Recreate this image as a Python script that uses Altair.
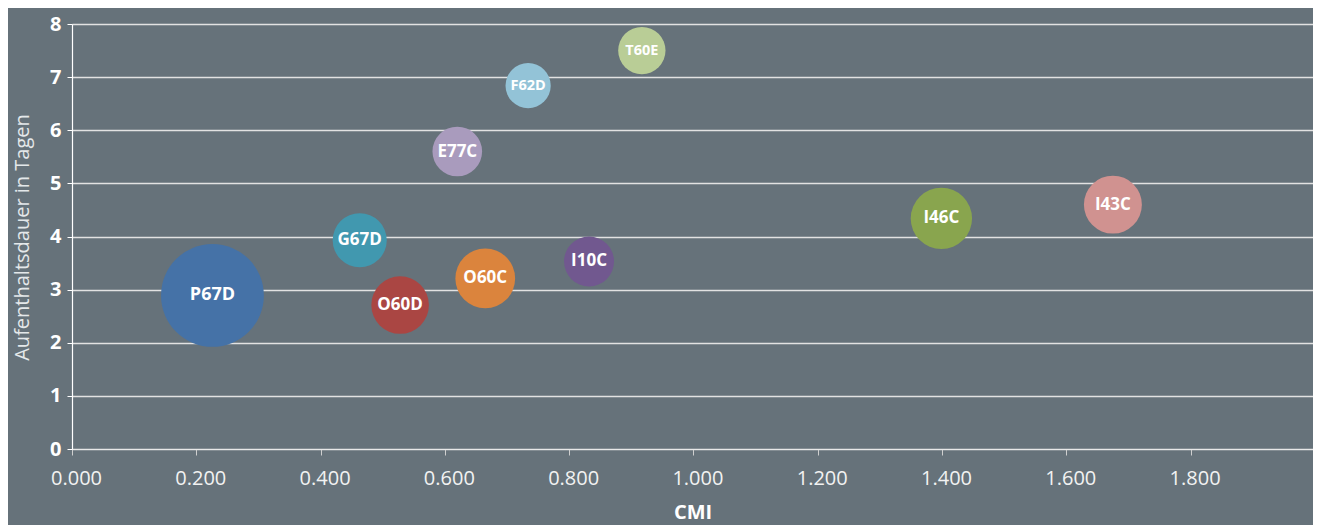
import altair as alt
import pandas as pd

# DRG codes, CMI (x), Aufenthaltsdauer in Tagen (y), bubble weight (size)
drg = ["P67D", "G67D", "O60D", "O60C", "E77C", "F62D", "T60E", "I10C", "I46C", "I43C"]
cmi = [0.226, 0.463, 0.528, 0.665, 0.620, 0.734, 0.917, 0.832, 1.399, 1.675]
tage = [2.89, 3.93, 2.71, 3.21, 5.60, 6.84, 7.50, 3.53, 4.34, 4.60]
gewicht = [3364, 930, 1056, 1136, 784, 650, 713, 795, 1197, 1069]
farben = ["#4572a7", "#4198af", "#aa4643", "#db843d", "#a99bbd",
          "#93c3d7", "#b9cd96", "#71588f", "#89a54e", "#d09290"]
x_ticks = [0.0, 0.2, 0.4, 0.6, 0.8, 1.0, 1.2, 1.4, 1.6, 1.8]
y_ticks = [0, 1, 2, 3, 4, 5, 6, 7, 8]

df = pd.DataFrame({"DRG": drg, "CMI": cmi, "Tage": tage, "Gewicht": gewicht})

FONT = "Open Sans"
BG = "#66727a"

x_enc = alt.X("CMI:Q",
              scale=alt.Scale(domain=[0, 1.997], nice=False, zero=True),
              axis=alt.Axis(values=x_ticks, format=".3f", title="CMI",
                            grid=False, domain=True, domainColor="#e8e8e8",
                            domainWidth=1.2, ticks=True, tickColor="#cfcfcf",
                            tickSize=6, labelColor="#f2f2f2", labelFontSize=20,
                            labelFont=FONT, labelPadding=13, labelFlush=False,
                            labelOffset=4,
                            titleFont=FONT, titleFontSize=20, titleFontWeight="bold",
                            titleColor="#ffffff", titleY=69,
                            titleBaseline="alphabetic"))
y_enc = alt.Y("Tage:Q",
              scale=alt.Scale(domain=[0, 8], nice=False),
              axis=alt.Axis(values=y_ticks, format="d",
                            title="Aufenthaltsdauer in Tagen",
                            grid=True, gridColor="#e2e2e2", gridWidth=1.3,
                            domain=True, domainColor="#ffffff", domainWidth=1.2,
                            ticks=True, tickColor="#ffffff", tickSize=5,
                            labelColor="#ffffff", labelFontSize=20,
                            labelFontWeight="bold", labelFont=FONT, labelPadding=6,
                            titleFont=FONT, titleFontSize=20, titleFontWeight="normal",
                            titleColor="#e4e8ea", titleX=-44, titleY=213,
                            titleAlign="center", titleAngle=-90,
                            titleBaseline="alphabetic"))

base = alt.Chart(df)

bubbles = base.mark_circle(opacity=1).encode(
    x=x_enc,
    y=y_enc,
    size=alt.Size("Gewicht:Q",
                  scale=alt.Scale(domain=[0, 3364], range=[0, 3.14159 * 58 * 58]),
                  legend=None),
    color=alt.Color("DRG:N", scale=alt.Scale(domain=drg, range=farben), legend=None),
)

label_size = (
    alt.when(alt.FieldOneOfPredicate(field="DRG", oneOf=["F62D", "T60E"]))
    .then(alt.value(14.5))
    .when(alt.datum.DRG == "P67D")
    .then(alt.value(18))
    .otherwise(alt.value(17))
)

labels = base.mark_text(font=FONT, fontWeight="bold", color="#ffffff",
                        align="center", baseline="middle").encode(
    x="CMI:Q",
    y="Tage:Q",
    text="DRG:N",
    size=label_size,
)

chart = (bubbles + labels).properties(
    width=1241,
    height=425,
    background=BG,
    padding={"left": 64, "top": 16, "right": 0, "bottom": 76},
    autosize=alt.AutoSizeParams(type="none"),
).configure_view(stroke=None)

chart.save("out.html", embed_options={"renderer": "svg", "actions": False})
